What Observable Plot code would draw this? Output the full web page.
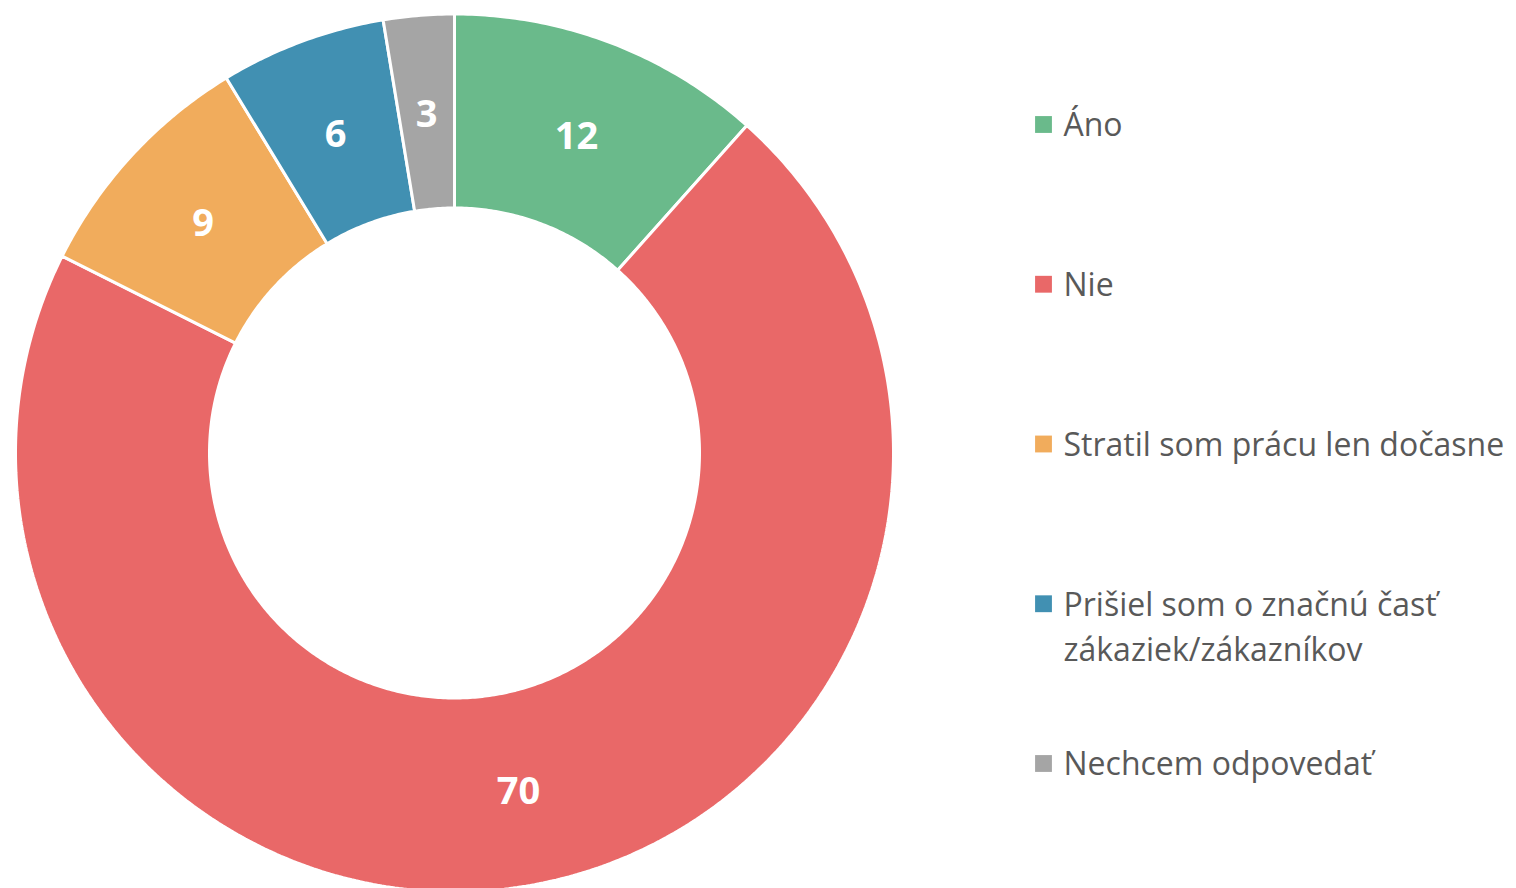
<!DOCTYPE html>
<html>
<head>
<meta charset="utf-8">
<script src="https://cdn.jsdelivr.net/npm/d3@7"></script>
<script src="https://cdn.jsdelivr.net/npm/@observablehq/plot@0.6"></script>
<style>
  html, body { margin: 0; padding: 0; background: #fff; }
  #chart svg { display: block; }
</style>
</head>
<body>
<div id="chart"></div>
<script>
const categories = ["Áno", "Nie", "Stratil som prácu len dočasne", "Prišiel som o značnú časť\nzákaziek/zákazníkov", "Nechcem odpovedať"];
// slice shares (percent)
const values = [11.6, 70.8, 8.9, 6.1, 2.6];
// data labels as printed on the slices
const labelTexts = ["12", "70", "9", "6", "3"];
const colors = ["#6aba8b", "#e96868", "#f1ac5c", "#4190b2", "#a5a5a5"];

const W = 1516, H = 888;
const cx = 454, cy = 452.5, R = 439, r0 = 245;

// Build arc polygons from the data
const pieGen = d3.pie().sort(null).value(d => d.value);
const arcs = pieGen(categories.map((c, i) => ({cat: c, value: values[i], label: labelTexts[i]})));
const pt = (a, rad) => [cx + rad * Math.sin(a), cy - rad * Math.cos(a)];
const polys = [];
arcs.forEach((a) => {
  const n = Math.max(4, Math.ceil((a.endAngle - a.startAngle) / 0.01));
  const pts = [];
  for (let k = 0; k <= n; k++) pts.push(pt(a.startAngle + (a.endAngle - a.startAngle) * k / n, R));
  for (let k = n; k >= 0; k--) pts.push(pt(a.startAngle + (a.endAngle - a.startAngle) * k / n, r0));
  pts.push(pts[0]);
  pts.forEach(([x, y]) => polys.push({cat: a.data.cat, x, y}));
});
const labels = arcs.map(a => {
  const m = (a.startAngle + a.endAngle) / 2;
  const [x, y] = pt(m, (R + r0) / 2);
  return {x, y, text: a.data.label};
});
const legendX = 1043, legendY0 = 124, legendStep = 159.75;
const legend = categories.map((c, i) => ({cat: c, x: legendX, y: legendY0 + i * legendStep}));

const plot = Plot.plot({
  width: W, height: H,
  margin: 0,
  x: {domain: [0, W], range: [0, W], axis: null},
  y: {domain: [0, H], range: [0, H], axis: null},
  color: {domain: categories, range: colors},
  style: {fontFamily: "'Open Sans', sans-serif", background: "#fff"},
  marks: [
    Plot.line(polys, {x: "x", y: "y", z: "cat", fill: "cat", stroke: "#fff", strokeWidth: 3, curve: "linear", strokeLinejoin: "miter"}),
    Plot.text(labels, {x: "x", y: "y", text: "text", fill: "#fff", fontSize: 38, fontWeight: "bold", lineAnchor: "middle", dy: 3}),
    Plot.dot(legend, {x: "x", y: "y", fill: "cat", symbol: "square", r: 9.5, stroke: null}),
    Plot.text(legend, {x: d => d.x + 20, y: "y", text: "cat", fill: "#595959", fontSize: 32, textAnchor: "start", lineAnchor: "top", dy: -20.5, lineHeight: 1.42})
  ]
});
document.getElementById("chart").appendChild(plot);
</script>
</body>
</html>
